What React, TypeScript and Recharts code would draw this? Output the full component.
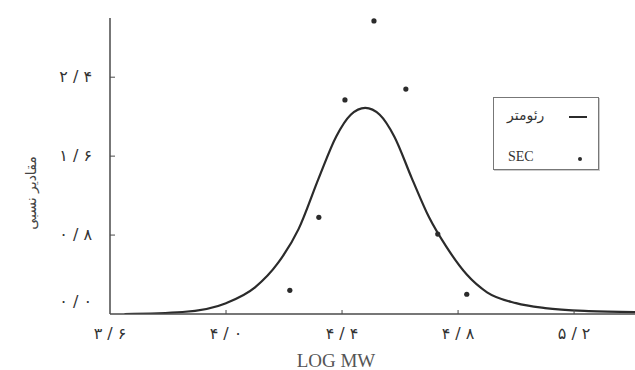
import React from "react";
import {
  ComposedChart,
  Line,
  Scatter,
  XAxis,
  YAxis,
  Legend,
  Label,
} from "recharts";

// rheometer-derived distribution
const curveX = [3.65, 3.85, 4.0, 4.1, 4.18, 4.25, 4.32, 4.38, 4.43, 4.48, 4.53, 4.58, 4.64, 4.7, 4.76, 4.83, 4.9, 5.0, 5.1, 5.25, 5.41];
const curveY = [0.0, 0.02, 0.11, 0.27, 0.52, 0.86, 1.38, 1.8, 2.02, 2.09, 2.02, 1.8, 1.38, 0.98, 0.68, 0.4, 0.22, 0.11, 0.06, 0.03, 0.02];

// SEC points
const secX = [4.22, 4.32, 4.41, 4.51, 4.62, 4.73, 4.83];
const secY = [0.24, 0.98, 2.17, 2.97, 2.28, 0.81, 0.2];

const xTicks = [3.6, 4.0, 4.4, 4.8, 5.2];
const xTickLabels = ["۳ / ۶", "۴ / ۰", "۴ / ۴", "۴ / ۸", "۵ / ۲"];
const yTicks = [0, 0.8, 1.6, 2.4];
const yTickLabels = ["۰ / ۰", "۰ / ۸", "۱ / ۶", "۲ / ۴"];

const curve = curveX.map((x, i) => ({ x, y: curveY[i] }));
const sec = secX.map((x, i) => ({ x, y: secY[i] }));

const ink = "#2b2b2b";
const axisInk = "#4a4a4a";
const faFont = "'DejaVu Sans', sans-serif";
const latinFont = "'Liberation Serif', serif";

function XTick(props: any) {
  const { x, y, payload } = props;
  const i = xTicks.indexOf(payload.value);
  return (
    <g>
      {i > 0 && <line x1={x} y1={y} x2={x} y2={y - 4} stroke={axisInk} strokeWidth={1} />}
      <text x={x} y={y + 20} textAnchor="middle" dominantBaseline="middle" fontFamily={faFont} fontSize={16} fill="#333">
        {xTickLabels[i]}
      </text>
    </g>
  );
}

function YTick(props: any) {
  const { x, y, payload } = props;
  const i = yTicks.indexOf(payload.value);
  const dy = payload.value === 0 ? -12 : 0;
  return (
    <g>
      {i > 0 && <line x1={x} y1={y} x2={x + 5} y2={y} stroke={axisInk} strokeWidth={1} />}
      <text x={x - 18} y={y + dy} textAnchor="end" dominantBaseline="middle" fontFamily={faFont} fontSize={16} fill="#333">
        {yTickLabels[i]}
      </text>
    </g>
  );
}

function LegendBox() {
  return (
    <div
      style={{
        width: 104,
        height: 71,
        border: "1px solid #777",
        boxShadow: "1px 1px 0 #ccc",
        background: "#fff",
        color: "#333",
        position: "relative",
      }}
    >
      <span style={{ position: "absolute", left: 13, top: 8, fontFamily: faFont, fontSize: 14, lineHeight: "18px" }}>رئومتر</span>
      <span style={{ position: "absolute", left: 75, top: 18, width: 18, height: 1.5, background: ink }} />
      <span style={{ position: "absolute", left: 14, top: 51, fontFamily: latinFont, fontSize: 14, lineHeight: "16px" }}>SEC</span>
      <span style={{ position: "absolute", left: 84, top: 59, width: 4, height: 4, borderRadius: 2, background: ink }} />
    </div>
  );
}

export default function App() {
  return (
    <div style={{ width: 635, height: 370, background: "#fff" }}>
      <style>{"body{margin:0}"}</style>
      <ComposedChart width={635} height={370} margin={{ top: 18, right: 0, bottom: 0, left: 0 }}>
        <XAxis
          type="number"
          dataKey="x"
          domain={[3.6, 5.41]}
          ticks={xTicks}
          tick={<XTick />}
          tickLine={false}
          tickSize={0}
          tickMargin={0}
          height={56}
          axisLine={{ stroke: axisInk, strokeWidth: 1.5 }}
          allowDataOverflow
        >
          <Label
            content={() => (
              <text x={336} y={367} textAnchor="middle" fontFamily={latinFont} fontSize={19} fill="#555">
                LOG MW
              </text>
            )}
          />
        </XAxis>
        <YAxis
          type="number"
          dataKey="y"
          domain={[0, 3]}
          ticks={yTicks}
          tick={<YTick />}
          tickLine={false}
          tickSize={0}
          tickMargin={0}
          width={110}
          axisLine={{ stroke: axisInk, strokeWidth: 1.5 }}
          allowDataOverflow
        >
          <Label
            content={() => (
              <text
                transform="translate(32, 193) rotate(-90)"
                textAnchor="middle"
                dominantBaseline="middle"
                fontFamily={faFont}
                fontSize={14}
                fill="#444"
              >
                مقادیر نسبی
              </text>
            )}
          />
        </YAxis>
        <Legend
          layout="horizontal"
          verticalAlign="middle"
          align="center"
          content={() => <LegendBox />}
          wrapperStyle={{ position: "absolute", left: 493, top: 97, width: 106 }}
        />
        <Line
          data={curve}
          dataKey="y"
          name="رئومتر"
          type="monotone"
          stroke={ink}
          strokeWidth={2.2}
          dot={false}
          activeDot={false}
          isAnimationActive={false}
        />
        <Scatter
          data={sec}
          dataKey="y"
          name="SEC"
          fill={ink}
          shape={(p: any) => <circle cx={p.cx} cy={p.cy} r={2.6} fill={ink} />}
          isAnimationActive={false}
        />
      </ComposedChart>
    </div>
  );
}
